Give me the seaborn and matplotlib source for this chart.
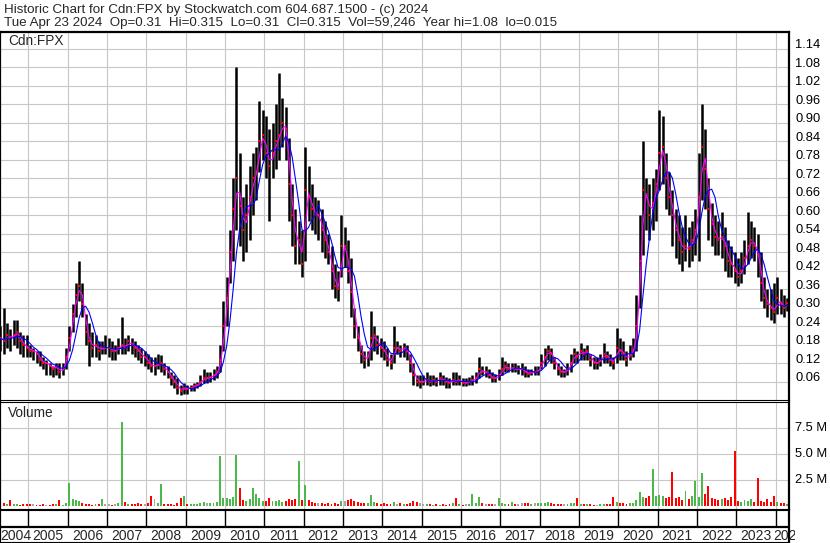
import numpy as np
import pandas as pd
import matplotlib
matplotlib.use("Agg")
import matplotlib.pyplot as plt
import seaborn as sns
from matplotlib.transforms import blended_transform_factory, ScaledTranslation, Bbox

# monthly bars, first bar = April 2004
start_year, start_month = 2004, 4

close = [
    0.20, 0.19, 0.21, 0.20, 0.21, 0.22, 0.19, 0.18, 0.17,  # 2004 Apr-Dec
    0.16, 0.16, 0.15, 0.13, 0.12, 0.12, 0.11, 0.10, 0.11, 0.09, 0.10, 0.14,  # 2005
    0.20, 0.28, 0.34, 0.37, 0.31, 0.22, 0.19, 0.17, 0.18, 0.16, 0.17, 0.17,  # 2006
    0.17, 0.16, 0.16, 0.17, 0.18, 0.17, 0.19, 0.18, 0.17, 0.16, 0.14, 0.14,  # 2007
    0.12, 0.11, 0.11, 0.115, 0.12, 0.10, 0.09, 0.07, 0.06, 0.04, 0.03, 0.04,  # 2008
    0.035, 0.04, 0.045, 0.05, 0.06, 0.07, 0.07, 0.075, 0.08, 0.09, 0.13, 0.24,  # 2009
    0.33, 0.48, 0.62, 0.72, 0.63, 0.55, 0.60, 0.66, 0.72, 0.74, 0.84, 0.86,  # 2010
    0.80, 0.76, 0.80, 0.84, 0.86, 0.90, 0.88, 0.70, 0.60, 0.50, 0.52, 0.44,  # 2011
    0.68, 0.66, 0.62, 0.60, 0.60, 0.55, 0.52, 0.48, 0.42, 0.37, 0.36, 0.50,  # 2012
    0.50, 0.42, 0.35, 0.24, 0.20, 0.15, 0.13, 0.14, 0.20, 0.21, 0.18, 0.17,  # 2013
    0.16, 0.13, 0.12, 0.17, 0.17, 0.16, 0.17, 0.16, 0.12, 0.08, 0.06, 0.06,  # 2014
    0.06, 0.065, 0.06, 0.065, 0.06, 0.07, 0.065, 0.06, 0.055, 0.065, 0.06, 0.065,  # 2015
    0.055, 0.055, 0.06, 0.065, 0.07, 0.10, 0.09, 0.09, 0.08, 0.07, 0.07, 0.08,  # 2016
    0.10, 0.11, 0.10, 0.105, 0.10, 0.10, 0.10, 0.09, 0.085, 0.09, 0.09, 0.095,  # 2017
    0.12, 0.14, 0.16, 0.15, 0.12, 0.10, 0.09, 0.09, 0.10, 0.12, 0.15, 0.14,  # 2018
    0.16, 0.15, 0.16, 0.13, 0.12, 0.12, 0.13, 0.15, 0.14, 0.13, 0.12, 0.17,  # 2019
    0.16, 0.15, 0.13, 0.15, 0.16, 0.24, 0.45, 0.68, 0.66, 0.60, 0.64, 0.70,  # 2020
    0.80, 0.82, 0.72, 0.66, 0.60, 0.55, 0.52, 0.48, 0.50, 0.49, 0.52, 0.55,  # 2021
    0.66, 0.82, 0.75, 0.62, 0.57, 0.53, 0.52, 0.53, 0.50, 0.45, 0.44, 0.42,  # 2022
    0.40, 0.42, 0.46, 0.50, 0.52, 0.50, 0.47, 0.38, 0.33, 0.31, 0.30, 0.285,  # 2023
    0.33, 0.31, 0.30, 0.315,  # 2024 Jan-Apr
]

high = [
    0.24, 0.30, 0.25, 0.23, 0.26, 0.26, 0.22, 0.21, 0.21,
    0.18, 0.17, 0.16, 0.16, 0.14, 0.13, 0.12, 0.11, 0.12, 0.12, 0.12, 0.17,
    0.24, 0.31, 0.38, 0.45, 0.38, 0.28, 0.25, 0.22, 0.21, 0.19, 0.19, 0.21,
    0.20, 0.19, 0.18, 0.20, 0.27, 0.20, 0.21, 0.20, 0.19, 0.18, 0.17, 0.16,
    0.15, 0.14, 0.14, 0.15, 0.145, 0.12, 0.11, 0.09, 0.08, 0.07, 0.05, 0.055,
    0.05, 0.05, 0.055, 0.06, 0.08, 0.10, 0.09, 0.09, 0.10, 0.11, 0.18, 0.32,
    0.40, 0.55, 0.72, 1.08, 0.80, 0.66, 0.70, 0.76, 0.80, 0.82, 0.97, 0.94,
    0.92, 0.88, 0.90, 0.96, 1.06, 0.98, 0.95, 0.85, 0.70, 0.62, 0.58, 0.55,
    0.82, 0.76, 0.70, 0.66, 0.65, 0.62, 0.58, 0.54, 0.50, 0.44, 0.42, 0.60,
    0.56, 0.52, 0.46, 0.30, 0.24, 0.18, 0.16, 0.16, 0.29, 0.24, 0.21, 0.20,
    0.19, 0.17, 0.15, 0.24, 0.19, 0.18, 0.185, 0.18, 0.15, 0.12, 0.08, 0.08,
    0.08, 0.09, 0.08, 0.08, 0.075, 0.09, 0.08, 0.075, 0.07, 0.09, 0.09, 0.08,
    0.07, 0.07, 0.075, 0.08, 0.09, 0.14, 0.11, 0.11, 0.10, 0.09, 0.085, 0.10,
    0.14, 0.125, 0.12, 0.12, 0.12, 0.115, 0.12, 0.11, 0.10, 0.10, 0.11, 0.11,
    0.15, 0.17, 0.18, 0.17, 0.14, 0.12, 0.11, 0.10, 0.12, 0.15, 0.17, 0.16,
    0.185, 0.17, 0.18, 0.15, 0.14, 0.14, 0.15, 0.185, 0.16, 0.15, 0.14, 0.235,
    0.20, 0.19, 0.16, 0.18, 0.20, 0.34, 0.60, 0.84, 0.72, 0.70, 0.72, 0.75,
    0.94, 0.92, 0.80, 0.74, 0.68, 0.62, 0.60, 0.56, 0.60, 0.56, 0.58, 0.62,
    0.80, 0.96, 0.88, 0.72, 0.64, 0.60, 0.58, 0.61, 0.56, 0.52, 0.50, 0.48,
    0.46, 0.48, 0.52, 0.61, 0.58, 0.56, 0.54, 0.48, 0.40, 0.36, 0.36, 0.38,
    0.40, 0.36, 0.34, 0.33,
]

low = [
    0.16, 0.15, 0.17, 0.16, 0.18, 0.17, 0.15, 0.14, 0.14,
    0.14, 0.13, 0.12, 0.11, 0.10, 0.08, 0.08, 0.075, 0.08, 0.07, 0.08, 0.10,
    0.16, 0.22, 0.27, 0.32, 0.27, 0.18, 0.11, 0.14, 0.14, 0.13, 0.15, 0.15,
    0.14, 0.13, 0.13, 0.15, 0.15, 0.15, 0.16, 0.15, 0.14, 0.13, 0.12, 0.11,
    0.10, 0.09, 0.08, 0.10, 0.09, 0.08, 0.07, 0.05, 0.04, 0.02, 0.015, 0.02,
    0.02, 0.03, 0.03, 0.04, 0.045, 0.055, 0.055, 0.06, 0.065, 0.07, 0.09, 0.16,
    0.24, 0.38, 0.45, 0.55, 0.50, 0.45, 0.48, 0.52, 0.60, 0.65, 0.74, 0.78,
    0.72, 0.58, 0.72, 0.75, 0.78, 0.82, 0.78, 0.58, 0.50, 0.44, 0.44, 0.40,
    0.45, 0.58, 0.55, 0.54, 0.52, 0.48, 0.46, 0.44, 0.36, 0.33, 0.32, 0.40,
    0.43, 0.38, 0.27, 0.20, 0.16, 0.12, 0.105, 0.11, 0.13, 0.16, 0.15, 0.14,
    0.13, 0.11, 0.10, 0.12, 0.15, 0.14, 0.14, 0.13, 0.09, 0.05, 0.045, 0.04,
    0.05, 0.05, 0.045, 0.05, 0.045, 0.05, 0.05, 0.04, 0.04, 0.05, 0.05, 0.05,
    0.045, 0.045, 0.05, 0.05, 0.055, 0.07, 0.08, 0.075, 0.07, 0.06, 0.06, 0.065,
    0.08, 0.09, 0.09, 0.09, 0.09, 0.085, 0.08, 0.075, 0.075, 0.08, 0.08, 0.08,
    0.10, 0.11, 0.13, 0.12, 0.10, 0.08, 0.075, 0.075, 0.08, 0.09, 0.12, 0.12,
    0.13, 0.13, 0.13, 0.11, 0.10, 0.10, 0.11, 0.12, 0.12, 0.11, 0.10, 0.12,
    0.13, 0.13, 0.11, 0.13, 0.14, 0.16, 0.30, 0.47, 0.55, 0.52, 0.55, 0.58,
    0.68, 0.70, 0.62, 0.60, 0.50, 0.46, 0.44, 0.42, 0.45, 0.43, 0.45, 0.47,
    0.45, 0.65, 0.62, 0.52, 0.50, 0.47, 0.47, 0.46, 0.42, 0.40, 0.40, 0.38,
    0.37, 0.38, 0.41, 0.44, 0.46, 0.45, 0.40, 0.32, 0.30, 0.27, 0.26, 0.25,
    0.28, 0.28, 0.27, 0.29,
]

# volume in millions of shares
volume_m = [
    0.77, 0.3, 0.2, 0.6, 0.2, 0.15, 0.1, 0.2, 0.15,
    0.2, 0.15, 0.1, 0.1, 0.15, 0.1, 0.1, 0.2, 0.15, 0.6, 0.1, 0.3,
    2.2, 0.7, 0.6, 0.5, 0.3, 0.2, 0.15, 0.1, 0.2, 0.2, 0.7, 0.15,
    0.2, 0.1, 0.15, 0.3, 8.1, 0.4, 0.2, 0.15, 0.2, 0.3, 0.2, 0.15,
    0.3, 1.0, 0.7, 0.3, 2.1, 0.2, 0.15, 0.2, 0.1, 0.3, 0.8, 1.0,
    0.2, 0.15, 0.2, 0.2, 0.3, 0.4, 0.3, 0.3, 0.3, 0.4, 4.8, 0.8,
    0.8, 0.7, 0.9, 4.9, 1.7, 0.6, 0.5, 0.7, 1.7, 1.2, 0.8, 0.5,
    0.5, 0.8, 0.5, 0.5, 0.6, 0.4, 0.5, 0.7, 0.6, 0.7, 4.3, 0.6,
    2.0, 0.6, 0.4, 0.3, 0.3, 0.3, 0.2, 0.3, 0.2, 0.3, 0.2, 0.5,
    0.5, 0.6, 0.7, 0.5, 0.4, 0.3, 0.3, 0.3, 1.1, 0.4, 0.3, 0.2,
    0.3, 0.2, 0.2, 0.4, 0.2, 0.3, 0.2, 0.2, 0.3, 0.5, 0.4, 0.3,
    0.2, 0.2, 0.15, 0.1, 0.2, 0.1, 0.15, 0.1, 0.2, 0.3, 0.8, 0.2,
    0.1, 0.15, 0.2, 1.2, 0.3, 0.9, 0.3, 0.2, 0.2, 0.2, 0.15, 0.8,
    0.3, 0.2, 0.2, 0.4, 0.2, 0.2, 0.3, 0.3, 0.3, 0.2, 0.3, 0.3,
    0.3, 0.3, 0.4, 0.3, 0.2, 0.2, 0.15, 0.15, 0.2, 0.3, 0.3, 0.8,
    0.2, 0.2, 0.2, 0.15, 0.1, 0.1, 0.15, 0.2, 0.15, 0.2, 0.9, 0.4,
    0.3, 0.3, 0.2, 0.3, 0.3, 0.6, 1.3, 0.9, 0.8, 1.0, 3.6, 1.0,
    1.1, 1.0, 0.8, 0.9, 3.3, 0.8, 0.9, 0.6, 1.4, 0.7, 1.0, 2.4,
    0.9, 3.2, 1.2, 1.9, 0.8, 0.7, 0.6, 0.7, 0.8, 0.6, 0.9, 5.3,
    0.5, 0.4, 0.6, 0.5, 0.7, 0.4, 2.7, 0.5, 0.4, 0.7, 0.4, 1.0,
    0.4, 0.3, 0.3, 0.2,
]

price_ticks = [0.06, 0.12, 0.18, 0.24, 0.30, 0.36, 0.42, 0.48, 0.54, 0.60,
               0.66, 0.72, 0.78, 0.84, 0.90, 0.96, 1.02, 1.08, 1.14]
vol_ticks = [2.5, 5.0, 7.5]
vol_labels = ["2.5 M", "5.0 M", "7.5 M"]
years = list(range(2004, 2025))

header_1 = "Historic Chart for Cdn:FPX by Stockwatch.com 604.687.1500 - (c) 2024"
header_2 = ("Tue Apr 23 2024  Op=0.31  Hi=0.315  Lo=0.31  Cl=0.315  "
            "Vol=59,246  Year hi=1.08  lo=0.015")

# --- prepare frame
n = len(close)
t = start_year + (np.arange(n) + start_month - 1 + 0.5) / 12
df = pd.DataFrame({"t": t, "close": close, "high": high, "low": low, "vol": volume_m})
df["ma_short"] = df["close"].rolling(2, min_periods=1).mean()
df["ma_long"] = df["close"].rolling(5, min_periods=1).mean()
chg = df["close"].diff().fillna(0)
df["vcolor"] = np.where(chg > 0, "#4cb84c", np.where(chg < 0, "#ff0000", "#a8a8a8"))

sns.set_theme(style="white")
plt.rcParams["font.family"] = ["Liberation Sans", "DejaVu Sans"]

W, H = 830, 543
fig = plt.figure(figsize=(W / 100, H / 100), dpi=100)
fig.patch.set_facecolor("white")


def px_axes(x0, y0, x1, y1):
    return fig.add_axes([x0 / W, 1 - y1 / H, (x1 - x0) / W, (y1 - y0) / H])


XLIM = (2004.28, 2024.34)
GRID = "#c8c8c8"

ax = px_axes(0, 32, 789, 400)
axv = px_axes(0, 402, 789, 509)
axd = px_axes(0, 510, 789, 542)

for a in (ax, axv, axd):
    a.set_xlim(*XLIM)
    a.set_facecolor("white")
    for s in a.spines.values():
        s.set_color("black")
        s.set_linewidth(0.8)
    a.spines["left"].set_linewidth(1.6)
    a.spines["right"].set_linewidth(1.6)
    a.tick_params(length=0, labelleft=False, labelbottom=False,
                  labelright=False, labeltop=False)
    a.set_axisbelow(True)
ax.spines["top"].set_linewidth(1.6)


def right_labels(axis, ticks, labels, dy_px):
    tr = (blended_transform_factory(axis.transAxes, axis.transData)
          + ScaledTranslation(6 / 100, dy_px / 100, fig.dpi_scale_trans))
    for v, s in zip(ticks, labels):
        axis.text(1, v, s, transform=tr, ha="left", va="center",
                  fontsize=9.3, color="black", clip_on=False)


# --- price panel
ax.set_ylim(0, 1.194)
ax.set_xticks(years[1:])
ax.set_yticks(price_ticks)
ax.grid(True, color=GRID, linewidth=0.8)
ax.vlines(df["t"], df["low"], df["high"], color="black", linewidth=1.8, zorder=2)
sns.scatterplot(data=df, x="t", y="close", ax=ax, color="#ff0000", marker="s",
                s=3, linewidth=0, zorder=3, legend=False)
sns.lineplot(data=df, x="t", y="ma_short", ax=ax, color="#ff00ff", linewidth=0.8, zorder=4)
sns.lineplot(data=df, x="t", y="ma_long", ax=ax, color="#0000ff", linewidth=0.8, zorder=5)
ax.set_xlabel("")
ax.set_ylabel("")
right_labels(ax, price_ticks, [f"{v:.2f}" for v in price_ticks], 3.5)
ax.text(8 / 789, 1 - 9 / 368, "Cdn:FPX", transform=ax.transAxes, ha="left",
        va="center", fontsize=9.8)

# --- volume panel
axv.set_ylim(-0.29, 10.0)
axv.set_xticks(years[1:])
axv.set_yticks(vol_ticks)
axv.grid(True, color=GRID, linewidth=0.8)
axv.bar(df["t"], df["vol"], width=0.05, color=df["vcolor"], linewidth=0, zorder=2)
right_labels(axv, vol_ticks, vol_labels, 0)
axv.text(8 / 789, 1 - 11 / 107, "Volume", transform=axv.transAxes, ha="left",
         va="center", fontsize=9.8)

# --- date band
axd.set_ylim(0, 1)
axd.vlines(years[1:], 0.47, 1, color="black", linewidth=1.0)
axd.axhline(0.47, color="black", linewidth=1.6)
label_clip = Bbox.from_extents(0, 0, 795, H)
for y in years:
    c = (max(y, XLIM[0] + 0.08) + min(y + 1, XLIM[1] + 0.34)) / 2
    txt = axd.text(c, 0.2, str(y), ha="center", va="center", fontsize=10)
    txt.set_clip_box(label_clip)
    txt.set_clip_on(True)

# --- header
fig.text(4 / W, 1 - 10 / H, header_1, ha="left", va="center", fontsize=9.6)
fig.text(4 / W, 1 - 23 / H, header_2, ha="left", va="center", fontsize=9.6)

fig.savefig("out.png", dpi=100, facecolor="white")
